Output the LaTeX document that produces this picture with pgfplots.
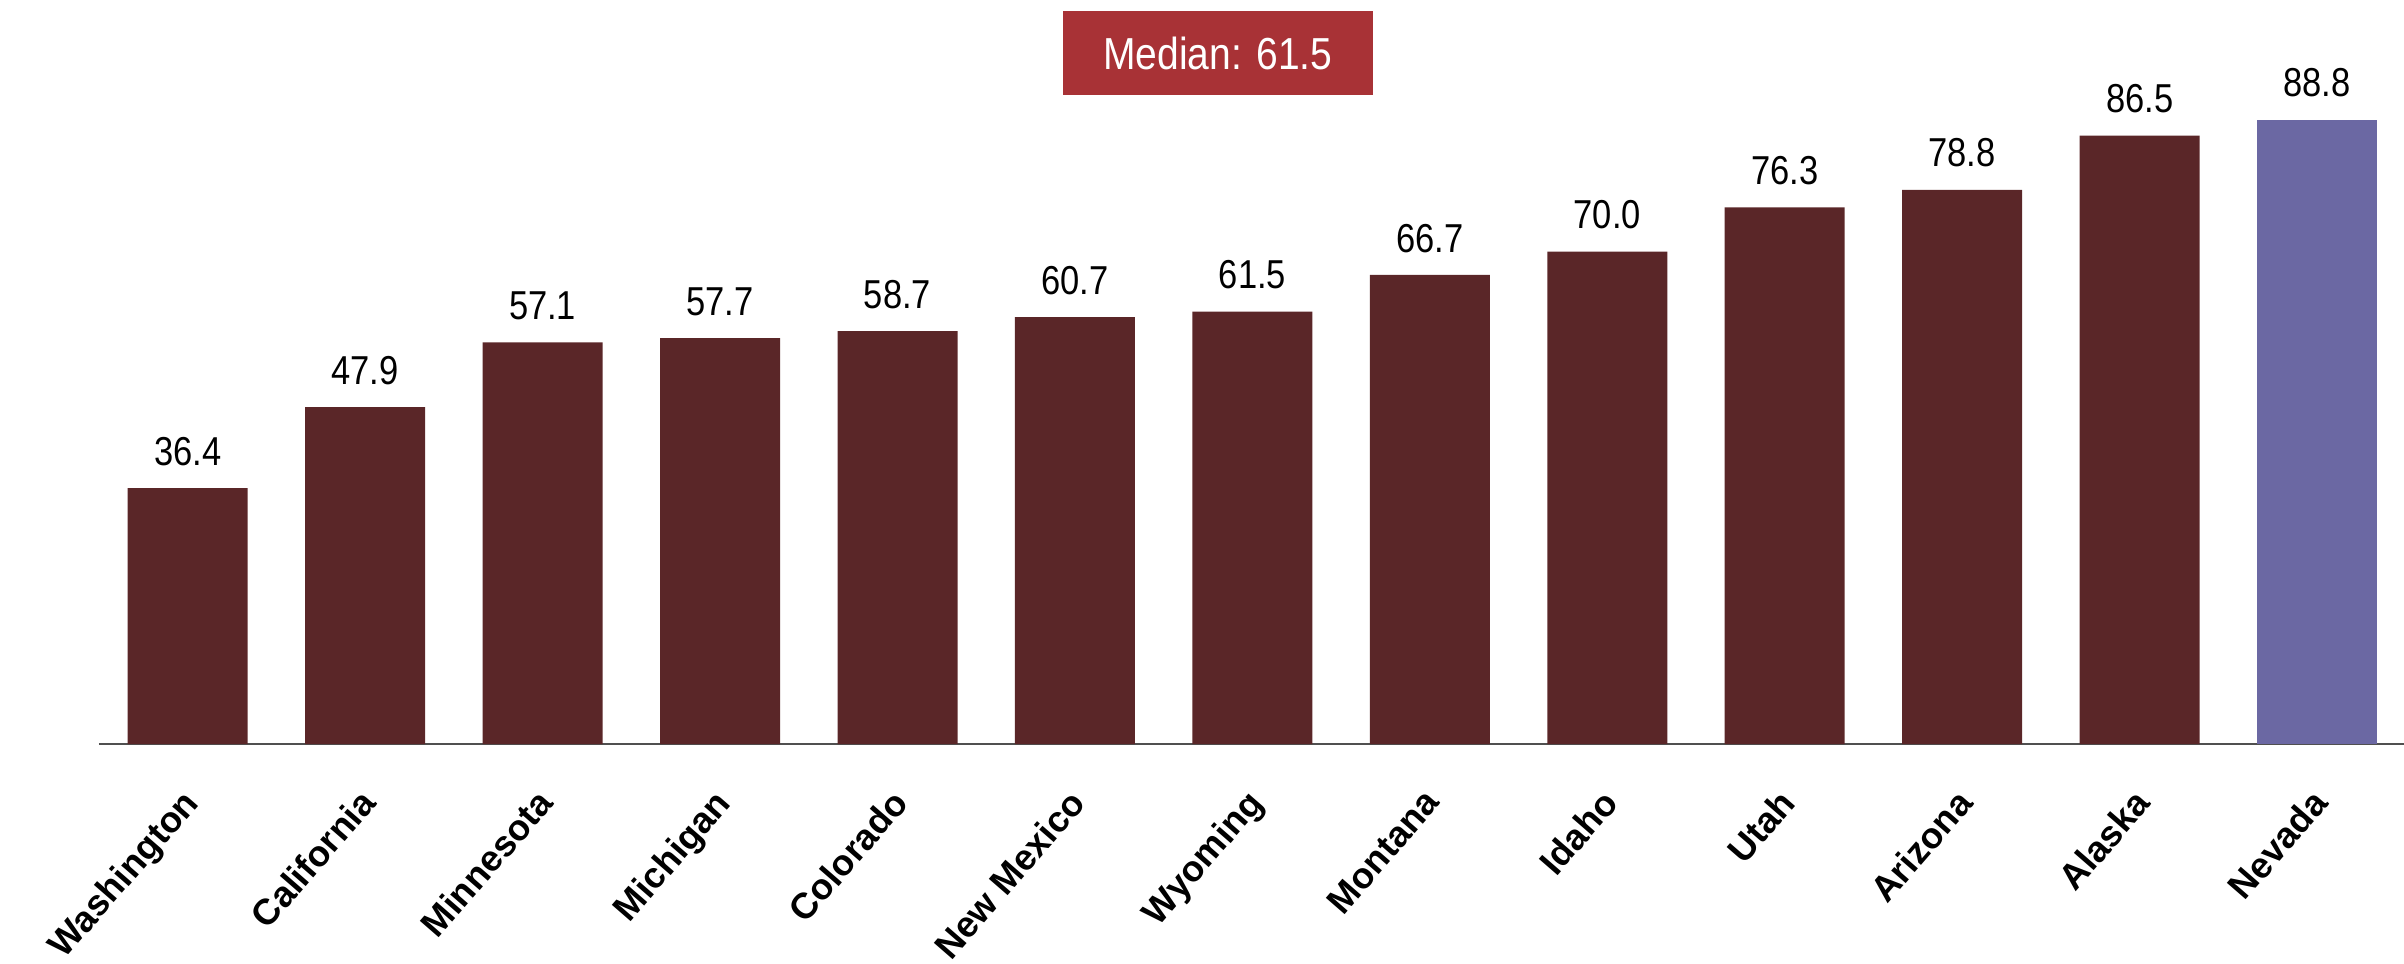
\documentclass[border=0pt]{standalone}
\usepackage{fontspec}
\setmainfont{Liberation Sans}
\usepackage{graphicx}
\usepackage{pgfplots}
\pgfplotsset{compat=1.18}
\definecolor{barred}{RGB}{90,38,40}
\definecolor{nevada}{RGB}{107,104,163}
\definecolor{medbox}{RGB}{168,50,54}
\definecolor{axisgray}{RGB}{80,80,80}
\begin{document}
\begin{tikzpicture}
\useasboundingbox (-39.6pt,-88pt) rectangle (922pt,297.6pt);
\begin{axis}[
  at={(0,0)}, anchor=south west,
  scale only axis, width=922pt, height=297.6pt,
  xmin=-0.5, xmax=12.49, ymin=0, ymax=105.8,
  axis x line*=bottom, axis y line=none,
  x axis line style={draw=axisgray, line width=1pt, -},
  xtick={0,1,2,3,4,5,6,7,8,9,10,11,12},
  xticklabels={Washington,California,Minnesota,Michigan,Colorado,New Mexico,Wyoming,Montana,Idaho,Utah,Arizona,Alaska,Nevada},
  major tick length=0pt,
  xticklabel style={font=\bfseries\fontsize{14.5}{17}\selectfont, xshift=-3pt, yshift=-17pt, rotate=49, anchor=north east, inner sep=0pt},
  ytick=\empty,
  nodes near coords={\scalebox{1}[1.17]{\pgfmathprintnumber[fixed,fixed zerofill,precision=1,assume math mode=true]{\pgfplotspointmeta}}},
  nodes near coords style={font=\fontsize{13.8}{16}\selectfont, anchor=south, inner sep=0pt, yshift=8.8pt, text=black},
  clip=false,
]
\addplot[ybar, bar width=48pt, bar shift=0pt, fill=barred, draw=none] coordinates {
(0,36.4) (1,47.9) (2,57.1) (3,57.7) (4,58.7) (5,60.7) (6,61.5) (7,66.7) (8,70.0) (9,76.3) (10,78.8) (11,86.5)};
\addplot[ybar, bar width=48pt, bar shift=0pt, fill=nevada, draw=none] coordinates {(12,88.8)};
\node[fill=medbox, text=white, minimum width=124pt, minimum height=33.6pt, inner sep=0pt, font=\fontsize{15.6}{18}\selectfont] at (axis cs:5.805,98.2) {\scalebox{1}[1.15]{Median: 61.5}};
\end{axis}
\end{tikzpicture}
\end{document}
